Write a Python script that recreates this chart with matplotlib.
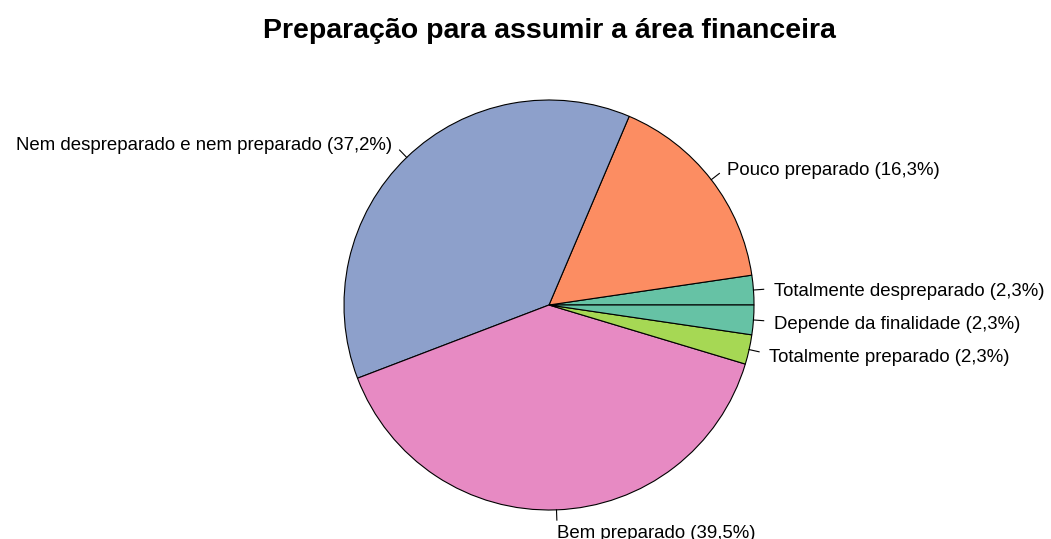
import numpy as np
import matplotlib
matplotlib.use("Agg")
import matplotlib.pyplot as plt

plt.rcParams['font.family'] = ['Liberation Sans', 'DejaVu Sans']

# answers (counts), in drawing order (counter-clockwise from 0 degrees)
categorias = ['Totalmente despreparado', 'Pouco preparado',
              'Nem despreparado e nem preparado', 'Bem preparado',
              'Totalmente preparado', 'Depende da finalidade']
contagens = [1, 7, 16, 17, 1, 1]
cores = ['#66c2a5', '#fc8d62', '#8da0cb', '#e78ac3', '#a6d854', '#66c2a5']

titulo = 'Preparação para assumir a área financeira'

W, H = 1051, 539
fig = plt.figure(figsize=(W / 100, H / 100), dpi=100)
ax = fig.add_axes([0, 0, 1, 1])

# pie centre and radius in pixels
cx, cy, r = 549, H - 305, 205

total = sum(contagens)
pct = [100 * c / total for c in contagens]
rotulos = [f'{n} ({p:.1f}%)'.replace('.', ',') for n, p in zip(categorias, pct)]

wedges, _ = ax.pie(contagens, colors=cores, startangle=0, counterclock=True,
                   radius=1, frame=True,
                   wedgeprops=dict(edgecolor='black', linewidth=0.8))
ax.set_xlim(-cx / r, (W - cx) / r)
ax.set_ylim(-cy / r, (H - cy) / r)
ax.axis('off')

# R-style labels: tick from 1.0 to 1.05, text at 1.1
dy = -3 / r
for w, lab in zip(wedges, rotulos):
    ang = np.deg2rad((w.theta1 + w.theta2) / 2)
    x, y = np.cos(ang), np.sin(ang)
    ax.plot([x, 1.05 * x], [y, 1.05 * y], color='black', lw=0.8)
    ax.text(1.1 * x, 1.1 * y + dy, lab, ha='left' if x >= 0 else 'right',
            va='center', fontsize=13.4, color='black', clip_on=False)

fig.text(cx / W, 1 - 31 / H, titulo, ha='center', va='center',
         fontsize=20.5, fontweight='bold')

fig.savefig('out.png', dpi=100)
